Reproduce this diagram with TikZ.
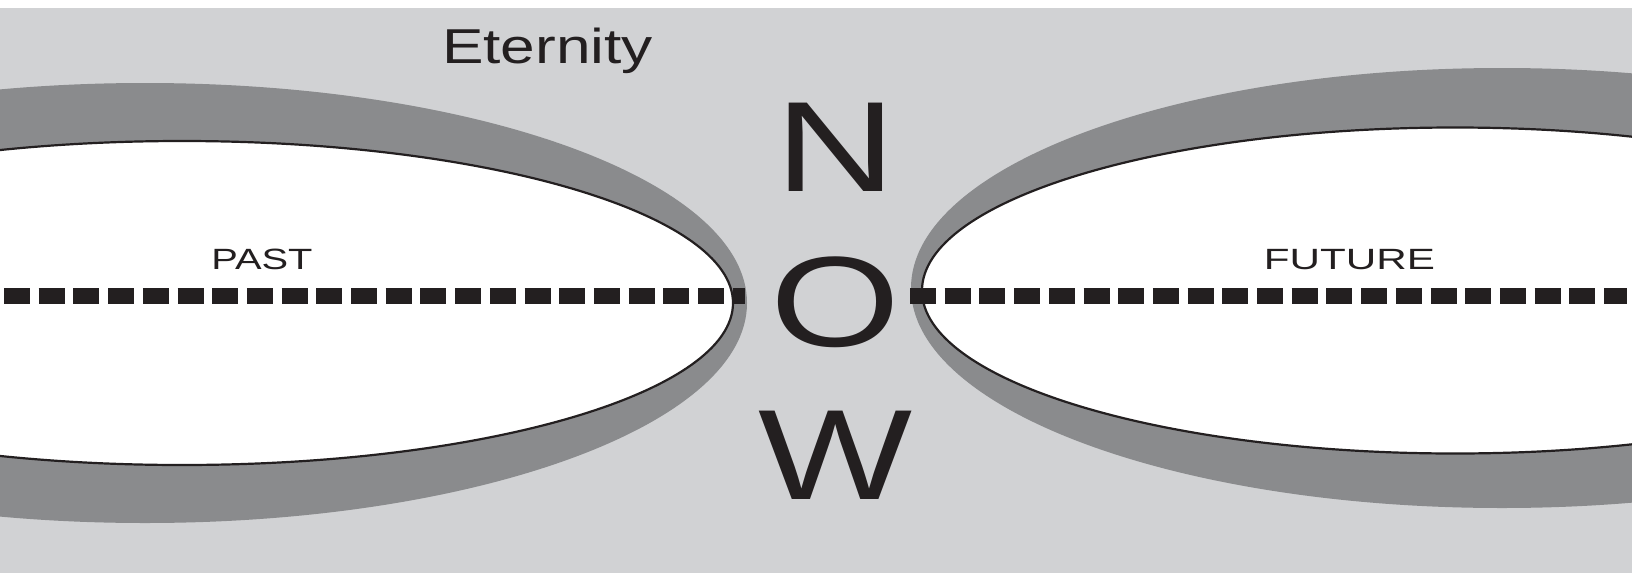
\documentclass[tikz,border=0pt]{standalone}
\usepackage{fontspec}
\setmainfont{Liberation Sans}
\definecolor{bgray}{HTML}{D1D2D4}
\definecolor{band}{HTML}{8A8B8D}
\definecolor{inkc}{HTML}{231F20}
\begin{document}
\begin{tikzpicture}[x=1pt,y=-1pt,
  hole/.style={fill=white,draw=inkc,line width=2.2pt},
  timeline/.style={draw=inkc,line width=16pt,dash pattern=on 26pt off 8.7pt},
  lbl/.style={text=inkc,inner sep=0pt,anchor=base}]
\useasboundingbox (0,0) rectangle (1632,573);
\fill[white] (0,0) rectangle (1632,573);
\begin{scope}
\clip (0,0) rectangle (1632,573);
\fill[bgray] (0,8) rectangle (1632,573);
\fill[band] (145,303) ellipse [x radius=602, y radius=220];
\fill[band] (1502,288) ellipse [x radius=591, y radius=220];
\draw[hole] (182,303) ellipse [x radius=551, y radius=162];
\draw[hole] (1455,290.5) ellipse [x radius=533, y radius=163];
\coordinate (ps) at (4,296);
\coordinate (pe) at (745,296);
\coordinate (fs) at (910,296);
\coordinate (fe) at (1627,296);
\draw[timeline] (ps) -- (pe);
\draw[timeline] (fs) -- (fe);
\end{scope}
\node[lbl,font=\fontsize{49}{49}\selectfont] (eternity) at (547.5,63) {\scalebox{1.27}[1]{Eternity}};
\node[lbl,font=\fontsize{128.5}{128.5}\selectfont] (n) at (835.5,191) {\scalebox{1.3}[1]{N}};
\node[lbl,font=\fontsize{128.5}{128.5}\selectfont] (o) at (835,346) {\scalebox{1.3}[1]{O}};
\node[lbl,font=\fontsize{128.5}{128.5}\selectfont] (w) at (836,499) {\scalebox{1.27}[1]{W}};
\node[lbl,font=\fontsize{29.3}{29.3}\selectfont] (past) at (262,269) {\scalebox{1.36}[1]{PAST}};
\node[lbl,font=\fontsize{29.3}{29.3}\selectfont] (future) at (1349.5,269) {\scalebox{1.44}[1]{FUTURE}};
\end{tikzpicture}
\end{document}
